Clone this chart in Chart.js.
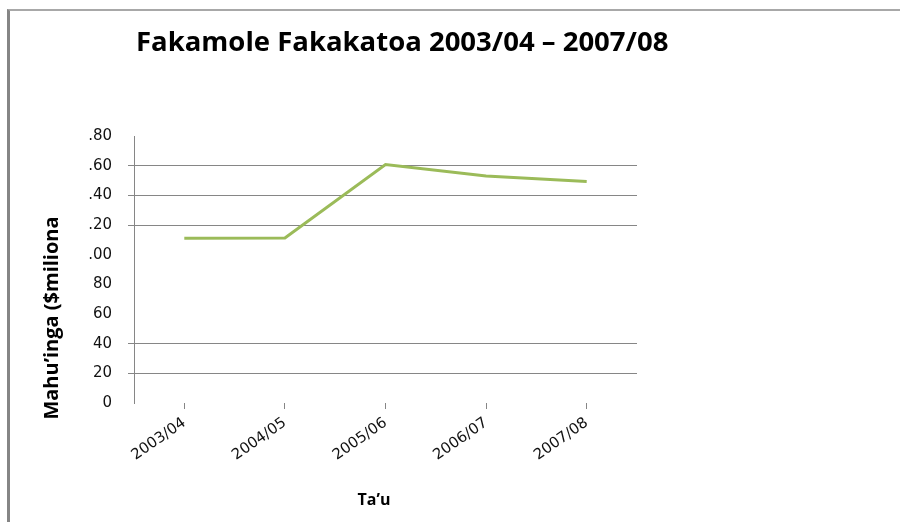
<!DOCTYPE html>
<html>
<head>
<meta charset="utf-8">
<script src="https://cdn.jsdelivr.net/npm/chart.js@4.4.0/dist/chart.umd.min.js"></script>
<style>
  html, body { margin: 0; padding: 0; background: #fff; }
  #wrap { position: relative; width: 900px; height: 522px; overflow: hidden; }
  #frame { position: absolute; left: 7px; top: 9px; right: -10px; bottom: -10px;
           border-left: 3px solid #858585; border-top: 2px solid #a8a8a8; }
  canvas { position: absolute; left: 0; top: 0; }
</style>
</head>
<body>
<div id="wrap">
  <div id="frame"></div>
  <canvas id="chart" width="900" height="522"></canvas>
</div>
<script>
// data
const years = ['2003/04', '2004/05', '2005/06', '2006/07', '2007/08'];
const values = [111, 111.3, 160.7, 153, 149.3];
// tick labels as they appear (clipped in the original)
const tickLabels = ['0', '20', '40', '60', '80', '.00', '.20', '.40', '.60', '.80'];
const griddedValues = [20, 40, 120, 140, 160];

const chartTitle = 'Fakamole Fakakatoa 2003/04 – 2007/08';
const yTitle = 'Mahu’inga ($miliona';
const xTitle = 'Ta’u';

const gridGray = '#868686';

// titles are placed by hand, the original is not centred on the plot
const titlesPlugin = {
    id: 'titles',
    afterDraw(chart) {
        const ctx = chart.ctx;
        ctx.save();
        ctx.fillStyle = '#000';
        ctx.textBaseline = 'alphabetic';

        ctx.font = 'bold 27.5px "Open Sans"';
        ctx.textAlign = 'left';
        ctx.fillText(chartTitle, 136, 51);

        ctx.font = 'bold 16px "Open Sans"';
        ctx.textAlign = 'center';
        ctx.fillText(xTitle, 374, 505);

        ctx.font = 'bold 20px "Open Sans"';
        ctx.translate(58, 318);
        ctx.rotate(-Math.PI / 2);
        ctx.fillText(yTitle, 0, 0);
        ctx.restore();
    }
};

new Chart(document.getElementById('chart').getContext('2d'), {
    type: 'line',
    data: {
        labels: years,
        datasets: [{
            data: values,
            borderColor: '#9BBB59',
            borderWidth: 3,
            pointRadius: 0,
            tension: 0,
            fill: false
        }]
    },
    options: {
        responsive: false,
        animation: false,
        layout: {
            padding: { top: 136, left: 84, right: 263, bottom: 0 }
        },
        plugins: {
            legend: { display: false },
            tooltip: { enabled: false }
        },
        scales: {
            x: {
                type: 'category',
                offset: true,
                border: { display: false },
                grid: {
                    drawOnChartArea: false,
                    drawTicks: true,
                    tickLength: 6,
                    color: gridGray
                },
                ticks: {
                    minRotation: 35,
                    maxRotation: 35,
                    padding: 5,
                    color: '#111',
                    font: { family: 'DejaVu Sans', size: 15 }
                },
                afterFit(scale) { scale.height = 119; }
            },
            y: {
                min: 0,
                max: 180,
                border: { color: gridGray },
                grid: {
                    tickLength: 6,
                    color: (c) => griddedValues.includes(c.tick.value) ? gridGray : 'rgba(0,0,0,0)'
                },
                ticks: {
                    stepSize: 20,
                    padding: 16,
                    color: '#111',
                    font: { family: 'DejaVu Sans', size: 15 },
                    callback: (v) => tickLabels[v / 20]
                },
                afterFit(scale) { scale.width = 50; }
            }
        }
    },
    plugins: [titlesPlugin]
});
</script>
</body>
</html>
